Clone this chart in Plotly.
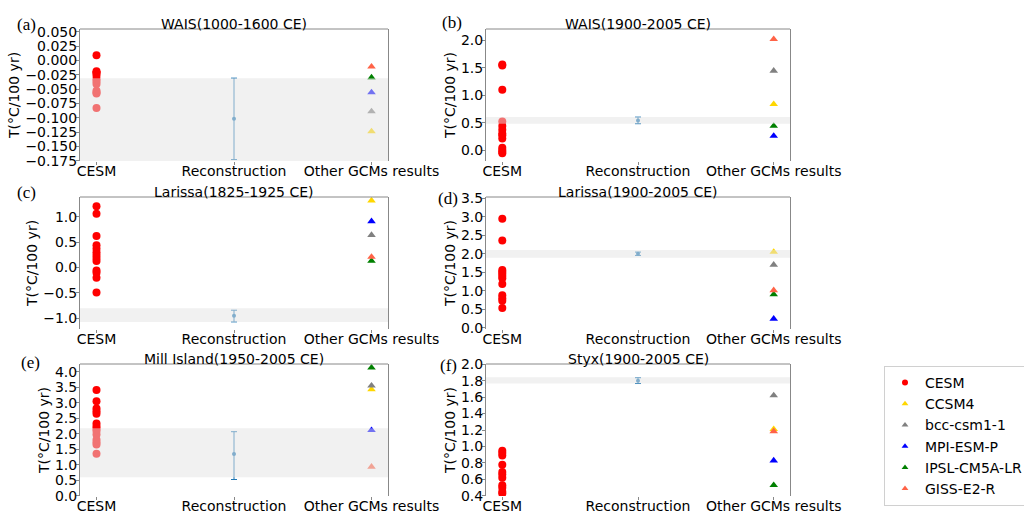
import plotly.graph_objects as go

# ---- categories and labels ----
categories = ["CESM", "Reconstruction", "Other GCMs results"]
panel_titles = [
    "WAIS(1000-1600 CE)", "WAIS(1900-2005 CE)",
    "Larissa(1825-1925 CE)", "Larissa(1900-2005 CE)",
    "Mill Island(1950-2005 CE)", "Styx(1900-2005 CE)",
]
panel_tags = ["(a)", "(b)", "(c)", "(d)", "(e)", "(f)"]

# ---- CESM ensemble trends (°C/100 yr) ----
cesm_a = [0.009, -0.019, -0.021, -0.022, -0.027, -0.033, -0.037, -0.041, -0.053, -0.056, -0.058, -0.083]
cesm_b = [1.56, 1.54, 1.10, 0.52, 0.44, 0.37, 0.30, 0.27, 0.21, 0.04, 0.0, -0.03, -0.06]
cesm_c = [1.21, 1.06, 0.62, 0.44, 0.37, 0.30, 0.25, 0.19, 0.13, -0.06, -0.10, -0.20, -0.49]
cesm_d = [2.95, 2.36, 1.56, 1.51, 1.46, 1.40, 1.34, 1.18, 0.88, 0.80, 0.73, 0.53]
cesm_e = [3.41, 3.05, 2.82, 2.73, 2.65, 2.33, 2.24, 2.16, 2.09, 1.98, 1.81, 1.73, 1.66, 1.36]
cesm_f = [0.95, 0.92, 0.89, 0.78, 0.69, 0.66, 0.62, 0.53, 0.50, 0.45, 0.43]

# ---- other GCMs: CCSM4, bcc-csm1-1, MPI-ESM-P, IPSL-CM5A-LR, GISS-E2-R ----
gcm_names = ["CCSM4", "bcc-csm1-1", "MPI-ESM-P", "IPSL-CM5A-LR", "GISS-E2-R"]
gcm_colors = ["#ffd700", "#808080", "#0000ff", "#008000", "#ff6347"]
gcm_a = [-0.124, -0.089, -0.056, -0.030, -0.011]
gcm_b = [0.835, 1.445, 0.256, 0.44, 2.02]
gcm_c = [1.32, 0.64, 0.91, 0.13, 0.21]
gcm_d = [2.05, 1.70, 0.24, 0.90, 1.01]
gcm_e = [3.43, 3.55, 2.12, 4.13, 0.94]
gcm_f = [1.21, 1.62, 0.83, 0.53, 1.185]

# ---- reconstructions with uncertainty ----
recon_value = [-0.102, 0.54, -0.95, 2.00, 1.35, 1.80]
recon_low = [-0.173, 0.48, -1.07, 1.955, 0.53, 1.765]
recon_high = [-0.031, 0.60, -0.84, 2.045, 2.07, 1.835]
band_low = [-0.176, 0.48, -1.07, 1.89, 0.60, 1.765]
band_high = [-0.031, 0.60, -0.80, 2.10, 2.18, 1.84]

# ---- axis settings per panel ----
y_ranges = [[-0.1755, 0.0547], [-0.2, 2.206], [-1.21, 1.39],
            [-0.035, 3.535], [-0.001, 4.25], [0.399, 2.002]]
y_ticks = [
    [0.05 - 0.025 * i for i in range(10)],
    [0.0, 0.5, 1.0, 1.5, 2.0],
    [-1.0, -0.5, 0.0, 0.5, 1.0],
    [0.0, 0.5, 1.0, 1.5, 2.0, 2.5, 3.0, 3.5],
    [0.0, 0.5, 1.0, 1.5, 2.0, 2.5, 3.0, 3.5, 4.0],
    [0.4, 0.6, 0.8, 1.0, 1.2, 1.4, 1.6, 1.8, 2.0],
]
y_formats = [".3f", ".1f", ".1f", ".1f", ".1f", ".1f"]

cesm_all = [cesm_a, cesm_b, cesm_c, cesm_d, cesm_e, cesm_f]
gcm_all = [gcm_a, gcm_b, gcm_c, gcm_d, gcm_e, gcm_f]

W, H = 1024, 513
col_x = [(80, 388), (486, 790)]
row_y = [(29, 161), (197, 329), (364, 496)]

FONT = "DejaVu Sans"
FRAME = "#888888"

fig = go.Figure()
layout_axes = {}
annotations = []
shapes = []

for i in range(6):
    n = i + 1
    r, c = divmod(i, 2)
    x0, x1 = col_x[c]
    top, bot = row_y[r]
    xd = [x0 / W, x1 / W]
    yd = [1 - bot / H, 1 - top / H]
    xa = "x" if n == 1 else f"x{n}"
    ya = "y" if n == 1 else f"y{n}"

    # CESM members
    fig.add_trace(go.Scatter(
        x=[0] * len(cesm_all[i]), y=cesm_all[i], mode="markers",
        marker=dict(symbol="circle", size=8, color="#ff0000"),
        showlegend=False, xaxis=xa, yaxis=ya, hoverinfo="y"))

    # reconstruction with error bar
    fig.add_trace(go.Scatter(
        x=[1], y=[recon_value[i]], mode="markers",
        marker=dict(symbol="circle", size=4, color="#1f77b4"),
        error_y=dict(type="data", symmetric=False,
                     array=[recon_high[i] - recon_value[i]],
                     arrayminus=[recon_value[i] - recon_low[i]],
                     color="#1f77b4", thickness=1, width=3),
        showlegend=False, xaxis=xa, yaxis=ya))

    # other GCMs
    for k, name in enumerate(gcm_names):
        fig.add_trace(go.Scatter(
            x=[2], y=[gcm_all[i][k]], mode="markers",
            marker=dict(symbol="triangle-up", size=7.5, color=gcm_colors[k]),
            name=name, showlegend=False, xaxis=xa, yaxis=ya))

    layout_axes["xaxis" if n == 1 else f"xaxis{n}"] = dict(
        domain=xd, range=[-0.12, 2.12], anchor=ya, automargin=False,
        tickvals=[0, 1, 2], ticktext=categories,
        ticks="outside", ticklen=3, tickcolor=FRAME, ticklabelstandoff=-6,
        showgrid=False, zeroline=False, showline=False,
        tickfont=dict(family=FONT, size=14, color="black"))
    layout_axes["yaxis" if n == 1 else f"yaxis{n}"] = dict(
        domain=yd, range=y_ranges[i], anchor=xa, automargin=False,
        tickvals=y_ticks[i], tickformat=y_formats[i],
        ticks="outside", ticklen=3, tickcolor=FRAME, ticklabelstandoff=-4,
        showgrid=False, zeroline=False,
        showline=True, mirror=True, linecolor=FRAME, linewidth=1,
        tickfont=dict(family=FONT, size=14, color="black"),
        title=dict(text="T(°C/100 yr)", font=dict(family=FONT, size=14, color="black"),
                   standoff=2))

    # reconstruction uncertainty band, drawn over the markers
    shapes.append(dict(
        type="rect", xref=f"{xa} domain", yref=ya,
        x0=0, x1=1, y0=band_low[i], y1=band_high[i],
        fillcolor="rgba(228,228,228,0.5)", line=dict(width=0), layer="above"))
    # top frame line
    shapes.append(dict(
        type="line", xref=f"{xa} domain", yref=f"{ya} domain",
        x0=0, x1=1, y0=1, y1=1, line=dict(color=FRAME, width=1)))

    # panel title
    annotations.append(dict(
        text=panel_titles[i], xref="paper", yref="paper",
        x=(x0 + x1) / 2 / W, y=1 - (top - 5) / H,
        xanchor="center", yanchor="middle", showarrow=False,
        font=dict(family=FONT, size=14, color="black")))

# panel tags
tag_pos = [(26, 24), (452, 22), (26, 192), (448, 199), (30, 362), (448, 365)]
for tag, (tx, ty) in zip(panel_tags, tag_pos):
    annotations.append(dict(
        text=tag, xref="paper", yref="paper", x=tx / W, y=1 - ty / H,
        xanchor="center", yanchor="middle", showarrow=False,
        font=dict(family="Liberation Serif", size=17, color="black")))

# legend entries
legend_items = [("CESM", "circle", "#ff0000")] + [
    (nm, "triangle-up", col) for nm, col in zip(gcm_names, gcm_colors)]
for nm, sym, col in legend_items:
    fig.add_trace(go.Scatter(
        x=[None], y=[None], mode="markers", name=nm,
        marker=dict(symbol=sym, size=6, color=col),
        showlegend=True, xaxis="x", yaxis="y"))

fig.update_layout(
    width=W, height=H,
    margin=dict(l=0, r=0, t=0, b=0, autoexpand=False),
    paper_bgcolor="white", plot_bgcolor="white",
    font=dict(family=FONT, size=13, color="black"),
    annotations=annotations, shapes=shapes,
    legend=dict(x=884 / W, y=1 - 366 / H, xanchor="left", yanchor="top",
                bordercolor="#d0d0d0", borderwidth=1, bgcolor="white",
                font=dict(family=FONT, size=14, color="black"),
                tracegroupgap=0),
    **layout_axes,
)

fig.write_html("out.html")
